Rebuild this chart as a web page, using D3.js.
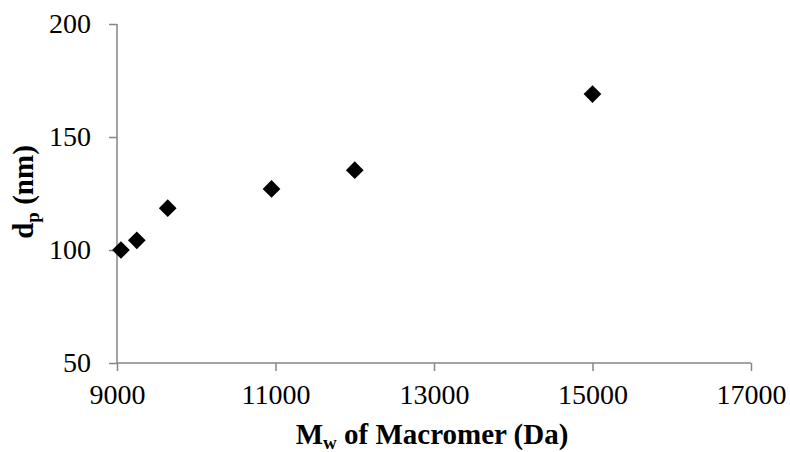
<!DOCTYPE html>
<html>
  <head>
    <script src="https://d3js.org/d3.v7.min.js"></script>
    <style>
      body { margin: 0; background: #fff; }
      text { font-family: "Liberation Serif", "Times New Roman", serif; }
    </style>
  </head>
  <body>
    <svg width="790" height="452"></svg>
    <script>
      // data
      const mw = [9050, 9250, 9640, 10950, 12000, 15000];
      const dp = [100, 104.3, 118.5, 127, 135.3, 169];
      const xTicks = [9000, 11000, 13000, 15000, 17000];
      const yTicks = [50, 100, 150, 200];

      const svg = d3.select("svg");
      const mLeft = 117, mRight = 751, mTop = 24, mBottom = 363;

      const xScale = d3.scaleLinear().domain([9000, 17000]).range([mLeft, mRight]);
      const yScale = d3.scaleLinear().domain([50, 200]).range([mBottom, mTop]);

      const axisColor = "#868686";

      const xAxis = svg.append("g")
        .attr("transform", `translate(0,${mBottom})`)
        .call(d3.axisBottom(xScale).tickValues(xTicks).tickSize(8).tickPadding(13).tickFormat(d3.format("d")));
      const yAxis = svg.append("g")
        .attr("transform", `translate(${mLeft},0)`)
        .call(d3.axisLeft(yScale).tickValues(yTicks).tickSize(8).tickPadding(18));

      [xAxis, yAxis].forEach(g => {
        g.select(".domain").attr("stroke", axisColor).attr("stroke-width", 1.5);
        g.selectAll(".tick line").attr("stroke", axisColor).attr("stroke-width", 1.5);
        g.selectAll(".tick text")
          .attr("fill", "#000")
          .style("font-family", "'Liberation Serif', serif")
          .style("font-size", "28px");
      });
      // domain paths without end caps
      xAxis.select(".domain").attr("d", `M${mLeft},0H${mRight}`);
      yAxis.select(".domain").attr("d", `M0,${mTop}V${mBottom}`);

      // markers
      const diamond = d3.symbol().type(d3.symbolDiamond2).size(200);
      svg.append("g").selectAll("path")
        .data(mw.map((m, i) => [m, dp[i]]))
        .enter().append("path")
          .attr("d", diamond)
          .attr("fill", "#000")
          .attr("transform", d => `translate(${xScale(d[0])},${yScale(d[1])})`);

      // axis titles
      const xt = svg.append("text")
        .attr("x", 432)
        .attr("y", 444)
        .attr("text-anchor", "middle")
        .style("font-size", "29px")
        .style("font-weight", "bold");
      xt.append("tspan").text("M");
      xt.append("tspan").attr("dy", 5).style("font-size", "19px").text("w");
      xt.append("tspan").attr("dy", -5).text(" of Macromer (Da)");

      const yt = svg.append("text")
        .attr("transform", `translate(33,192) rotate(-90)`)
        .attr("text-anchor", "middle")
        .style("font-size", "29px")
        .style("font-weight", "bold");
      yt.append("tspan").text("d");
      yt.append("tspan").attr("dy", 6).style("font-size", "19px").text("p");
      yt.append("tspan").attr("dy", -6).text(" (nm)");
    </script>
  </body>
</html>
